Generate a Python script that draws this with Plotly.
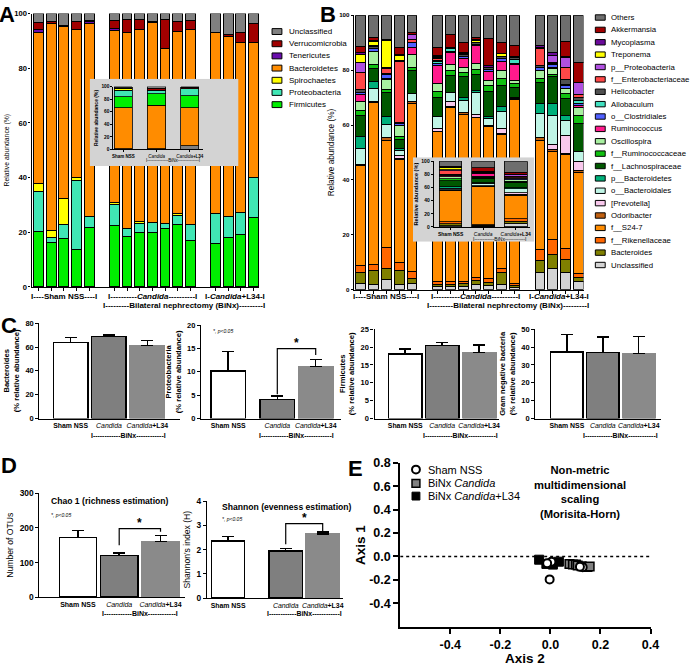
import plotly.graph_objects as go

# ============================ DATA ============================
group_names = ["Sham NSS", "Candida", "Candida+L34"]
group_sizes = [5, 7, 4]          # mice per group (panels A and B)

# ---- Panel A : phylum level relative abundance (%) per mouse ----
phylum_names = ["Firmicutes", "Proteobacteria", "Spirochaetes", "Bacteroidetes",
                "Tenericutes", "Verrucomicrobia", "Unclassified"]
a_firmicutes      = [20.4, 16.2, 17.7, 13.8, 21.8, 22.5, 18.6, 20.0, 19.8, 21.2, 23.0, 17.0, 15.9, 18.0, 19.0, 25.4]
a_proteobacteria  = [14.6, 2.0, 5.1, 25.1, 3.9, 7.7, 2.6, 3.1, 3.6, 1.9, 3.1, 5.8, 11.0, 7.7, 8.1, 14.5]
a_spirochaetes    = [2.7, 2.4, 9.5, 1.2, 0.0, 0.5, 0.0, 0.9, 0.0, 0.0, 0.8, 0.0, 0.0, 0.0, 0.0, 0.0]
a_bacteroidetes   = [55.3, 75.6, 62.9, 54.2, 70.7, 63.0, 71.9, 70.3, 73.5, 64.3, 66.4, 71.2, 66.2, 66.0, 62.2, 49.4]
a_tenericutes     = [1.3, 0.3, 0.0, 0.0, 0.6, 0.8, 0.0, 0.0, 0.0, 0.0, 0.0, 0.0, 0.0, 0.0, 0.0, 0.0]
a_verrucomicrobia = [2.5, 0.7, 0.4, 2.9, 0.3, 3.0, 4.9, 3.7, 0.3, 10.4, 3.9, 3.4, 0.0, 0.5, 3.9, 6.9]
a_unclassified    = [3.2, 2.8, 4.4, 2.8, 2.7, 2.5, 2.0, 2.0, 2.8, 2.2, 2.8, 2.6, 6.9, 7.8, 6.8, 3.8]

# ---- Panel A inset : group means (%) ----
ai_unclassified_low  = [0.8, 0.8, 5.5]
ai_bacteroidetes     = [65.5, 69.7, 60.8]
ai_firmicutes        = [17.1, 18.1, 18.7]
ai_proteobacteria    = [10.4, 5.2, 11.4]
ai_spirochaetes      = [3.6, 0.3, 0.0]
ai_tenericutes       = [0.3, 0.3, 0.0]
ai_verrucomicrobia   = [0.6, 3.0, 2.2]
ai_unclassified_high = [1.7, 2.6, 1.4]

# ---- Panel B : genus level relative abundance (%) per mouse ----
genus_names = ["Unclassified", "Bacteroides", "f__Rikenellaceae", "f__S24-7", "Odoribacter",
               "[Prevotella]", "o__Bacteroidales", "p__Bacteroidetes", "f__Lachnospiraceae",
               "f__Ruminococcaceae", "Oscillospira", "Ruminococcus", "o__Clostridiales",
               "Allobaculum", "Helicobacter", "f__Enterobacteriaceae", "p__Proteobacteria",
               "Treponema", "Mycoplasma", "Akkermansia", "Others"]
b_unclassified       = [2.4, 1.8, 3.6, 1.8, 2.4, 1.3, 1.2, 1.2, 1.8, 1.5, 1.9, 0.8, 6.4, 7.6, 6.4, 3.2]
b_bacteroides        = [3.8, 5.3, 4.1, 5.3, 1.8, 0.7, 0.8, 1.0, 1.6, 1.2, 4.3, 0.9, 4.2, 5.4, 4.8, 1.2]
b_rikenellaceae      = [2.7, 2.1, 7.8, 3.0, 2.3, 1.0, 1.0, 1.0, 1.2, 1.4, 1.4, 0.6, 4.2, 5.3, 4.0, 1.4]
b_s24_7              = [36.3, 58.9, 38.7, 37.5, 61.3, 54.5, 63.4, 60.6, 58.0, 55.4, 49.1, 66.9, 39.4, 32.2, 33.9, 36.9]
b_odoribacter        = [0.3, 0.3, 1.2, 0.3, 0.6, 0.3, 0.2, 0.6, 0.3, 0.5, 0.4, 0.3, 1.1, 0.6, 0.5, 0.7]
b_prevotella         = [0.0, 0.0, 0.0, 1.0, 0.0, 0.8, 2.0, 0.0, 0.9, 0.0, 1.8, 0.0, 0.0, 1.8, 6.6, 3.5]
b_bacteroidales      = [6.0, 4.8, 4.9, 2.0, 3.0, 4.4, 3.2, 4.7, 7.9, 2.4, 6.2, 0.7, 8.9, 10.7, 5.3, 3.6]
b_p_bacteroidetes    = [4.2, 2.7, 2.9, 0.5, 0.0, 0.0, 0.0, 1.1, 1.0, 0.6, 1.5, 0.0, 3.6, 4.2, 2.1, 0.0]
b_lachnospiraceae    = [7.9, 4.8, 8.7, 3.5, 8.3, 7.2, 6.1, 7.4, 5.7, 9.2, 7.8, 3.6, 7.7, 10.0, 6.0, 10.2]
b_ruminococcaceae    = [1.8, 1.4, 1.2, 0.8, 1.2, 2.0, 1.8, 1.6, 1.8, 2.2, 2.6, 1.2, 1.3, 0.7, 1.8, 2.9]
b_oscillospira       = [3.3, 4.8, 3.3, 4.3, 4.8, 2.8, 2.4, 1.7, 2.2, 1.7, 2.7, 1.1, 2.9, 2.0, 2.0, 2.8]
b_ruminococcus       = [2.4, 0.0, 0.6, 0.0, 2.4, 6.5, 4.4, 3.3, 6.6, 3.3, 3.6, 6.0, 0.0, 0.6, 0.0, 0.8]
b_clostridiales      = [0.8, 1.0, 1.5, 0.5, 1.8, 0.8, 0.3, 0.8, 0.4, 0.8, 1.0, 0.4, 1.2, 1.0, 1.0, 0.8]
b_allobaculum        = [0.0, 0.0, 0.0, 0.0, 0.0, 1.0, 1.0, 0.0, 0.0, 0.0, 0.0, 1.2, 0.0, 0.0, 0.5, 0.8]
b_helicobacter       = [0.9, 0.8, 0.3, 0.5, 0.0, 0.3, 0.4, 0.6, 0.8, 0.8, 0.8, 0.8, 0.6, 0.3, 1.6, 1.2]
b_enterobacteriaceae = [6.5, 0.0, 1.8, 22.3, 1.1, 0.8, 0.0, 0.0, 0.0, 0.0, 0.0, 0.0, 6.4, 0.3, 4.5, 1.2]
b_p_proteobacteria   = [3.4, 0.4, 0.3, 0.3, 1.8, 0.3, 0.0, 0.0, 0.0, 0.0, 0.0, 0.0, 0.5, 2.6, 3.5, 4.3]
b_treponema          = [3.0, 1.3, 9.8, 1.6, 0.0, 0.4, 0.0, 0.6, 0.5, 0.0, 0.8, 0.0, 0.0, 0.0, 0.0, 0.0]
b_mycoplasma         = [0.6, 0.3, 0.3, 0.3, 0.3, 0.3, 0.2, 0.3, 0.4, 0.5, 0.3, 0.5, 0.5, 1.2, 0.5, 0.0]
b_akkermansia        = [2.4, 1.0, 0.0, 2.7, 0.6, 3.0, 4.5, 3.5, 0.6, 10.1, 3.7, 3.8, 0.0, 0.0, 5.4, 7.2]
b_others             = [11.3, 8.3, 9.0, 11.8, 6.3, 11.6, 7.1, 10.0, 8.3, 8.4, 10.1, 11.2, 11.1, 13.5, 9.6, 17.3]

# ---- Panel B inset : group means (%) ----
bi_unclassified       = [2.0, 1.5, 5.5]
bi_bacteroides        = [3.0, 1.0, 3.5]
bi_rikenellaceae      = [3.0, 1.0, 3.5]
bi_s24_7              = [47.0, 58.5, 36.0]
bi_odoribacter        = [1.0, 0.3, 1.0]
bi_prevotella         = [0.5, 0.7, 2.5]
bi_bacteroidales      = [2.5, 3.5, 6.0]
bi_p_bacteroidetes    = [2.5, 0.5, 2.0]
bi_lachnospiraceae    = [9.0, 7.0, 8.0]
bi_ruminococcaceae    = [2.5, 1.5, 1.5]
bi_oscillospira       = [3.0, 2.0, 2.0]
bi_ruminococcus       = [2.5, 4.5, 0.5]
bi_clostridiales      = [1.0, 0.5, 1.0]
bi_allobaculum        = [0.5, 0.5, 0.5]
bi_helicobacter       = [0.5, 0.5, 1.0]
bi_enterobacteriaceae = [5.0, 0.5, 2.5]
bi_p_proteobacteria   = [1.5, 0.0, 2.5]
bi_treponema          = [3.0, 0.5, 0.0]
bi_mycoplasma         = [0.5, 0.5, 0.5]
bi_akkermansia        = [1.5, 5.0, 3.0]
bi_others             = [8.0, 10.0, 17.0]

# ---- Panel C : mean and SEM (upper) per group ----
bacteroides_mean    = [64.0, 68.7, 61.3]
bacteroides_sem     = [4.1, 1.6, 4.1]
proteobacteria_mean = [10.2, 4.1, 11.1]
proteobacteria_sem  = [4.2, 0.7, 1.5]
firmicutes_mean     = [18.1, 20.4, 18.4]
firmicutes_sem      = [1.4, 0.9, 2.2]
gramneg_mean        = [37.3, 36.8, 36.4]
gramneg_sem         = [9.6, 8.8, 9.6]

# ---- Panel D ----
chao1_mean   = [172, 121, 161]
chao1_sem    = [21, 7, 17]
shannon_mean = [2.36, 1.95, 2.65]
shannon_sem  = [0.17, 0.10, 0.07]

# ---- Panel E : NMDS (Morisita-Horn) ----
e_sham_axis2    = [0.004, -0.013, -0.003, 0.129, 0.118]
e_sham_axis1    = [-0.045, -0.059, -0.196, -0.092, -0.088]
e_candida_axis2 = [0.076, 0.090, 0.102, 0.109, 0.125, 0.148, 0.157]
e_candida_axis1 = [-0.064, -0.068, -0.070, -0.078, -0.084, -0.090, -0.087]
e_l34_axis2     = [-0.045, -0.016, 0.010, 0.034]
e_l34_axis1     = [-0.028, -0.064, -0.070, -0.045]

# ============================ STYLE ============================
W, H = 696, 671
FONT = "Liberation Sans, Arial, Helvetica, sans-serif"


def fx(p):
    return p / W


def fy(p):
    return 1 - p / H


PHYLUM_COLORS = {"Firmicutes": "#00ee00", "Proteobacteria": "#40e6b4", "Spirochaetes": "#ffff00",
                 "Bacteroidetes": "#ff8c00", "Tenericutes": "#6a0dad", "Verrucomicrobia": "#a00000",
                 "Unclassified": "#808080"}
GENUS_COLORS = {"Others": "#6e6e6e", "Akkermansia": "#a00000", "Mycoplasma": "#6a0a9a",
                "Treponema": "#ffff00", "p__Proteobacteria": "#b050e0",
                "f__Enterobacteriaceae": "#ff4848", "Helicobacter": "#505050",
                "Allobaculum": "#40e0c0", "o__Clostridiales": "#5060ff", "Ruminococcus": "#ff1a8c",
                "Oscillospira": "#a8f0a0", "f__Ruminococcaceae": "#10c010",
                "f__Lachnospiraceae": "#005800", "p__Bacteroidetes": "#00b07a",
                "o__Bacteroidales": "#c0f5e6", "[Prevotella]": "#f8c8ec", "Odoribacter": "#c06010",
                "f__S24-7": "#ff8c00", "f__Rikenellaceae": "#ff6600", "Bacteroides": "#808000",
                "Unclassified": "#d3d3d3"}
GROUP_FILL = ["white", "#7f7f7f", "#8a8a8a"]
GROUP_EDGE = ["black", "black", "#8a8a8a"]

a_series = dict(zip(phylum_names, [a_firmicutes, a_proteobacteria, a_spirochaetes, a_bacteroidetes,
                                   a_tenericutes, a_verrucomicrobia, a_unclassified]))
ai_series = [("Unclassified", ai_unclassified_low), ("Bacteroidetes", ai_bacteroidetes),
             ("Firmicutes", ai_firmicutes), ("Proteobacteria", ai_proteobacteria),
             ("Spirochaetes", ai_spirochaetes), ("Tenericutes", ai_tenericutes),
             ("Verrucomicrobia", ai_verrucomicrobia), ("Unclassified", ai_unclassified_high)]
b_series = dict(zip(genus_names, [b_unclassified, b_bacteroides, b_rikenellaceae, b_s24_7, b_odoribacter,
                                  b_prevotella, b_bacteroidales, b_p_bacteroidetes, b_lachnospiraceae,
                                  b_ruminococcaceae, b_oscillospira, b_ruminococcus, b_clostridiales,
                                  b_allobaculum, b_helicobacter, b_enterobacteriaceae, b_p_proteobacteria,
                                  b_treponema, b_mycoplasma, b_akkermansia, b_others]))
bi_series = dict(zip(genus_names, [bi_unclassified, bi_bacteroides, bi_rikenellaceae, bi_s24_7, bi_odoribacter,
                                   bi_prevotella, bi_bacteroidales, bi_p_bacteroidetes, bi_lachnospiraceae,
                                   bi_ruminococcaceae, bi_oscillospira, bi_ruminococcus, bi_clostridiales,
                                   bi_allobaculum, bi_helicobacter, bi_enterobacteriaceae, bi_p_proteobacteria,
                                   bi_treponema, bi_mycoplasma, bi_akkermansia, bi_others]))

layout = dict(width=W, height=H, margin=dict(l=0, r=0, t=0, b=0), paper_bgcolor="white",
              plot_bgcolor="rgba(0,0,0,0)", barmode="stack", showlegend=False,
              font=dict(family=FONT, color="black"))
shapes, annotations = [], []
fig = go.Figure()


def tfont(size, bold=True, italic=False):
    d = dict(size=size, family=FONT, color="black")
    if bold:
        d["weight"] = "bold"
    if italic:
        d["style"] = "italic"
    return d


def setup_axes(n, xpx, ypx, xrange, yrange, xkw=None, ykw=None):
    s = "" if n == 1 else str(n)
    base = dict(showgrid=False, zeroline=False, showline=True, linecolor="black", linewidth=1.3,
                ticks="outside", ticklen=3, tickwidth=1.2, tickcolor="black", fixedrange=True)
    xa = dict(base, domain=[fx(xpx[0]), fx(xpx[1])], range=xrange, anchor="y" + s, tickangle=0)
    ya = dict(base, domain=[fy(ypx[1]), fy(ypx[0])], range=yrange, anchor="x" + s)
    if xkw:
        xa.update(xkw)
    if ykw:
        ya.update(ykw)
    layout["xaxis" + s] = xa
    layout["yaxis" + s] = ya
    return "x" + s, "y" + s


def hidden_axes(n, xpx, ypx):
    s = str(n)
    off = dict(visible=False, showgrid=False, zeroline=False, fixedrange=True, range=[0, 1])
    layout["xaxis" + s] = dict(off, domain=[fx(xpx[0]), fx(xpx[1])], anchor="y" + s)
    layout["yaxis" + s] = dict(off, domain=[fy(ypx[1]), fy(ypx[0])], anchor="x" + s)
    fig.add_trace(go.Scatter(x=[], y=[], xaxis="x" + s, yaxis="y" + s, hoverinfo="skip"))
    return "x" + s, "y" + s


def positions(sizes, gap=1):
    out, start = [], 0
    for n in sizes:
        out += [start + i for i in range(n)]
        start += n + gap
    return out


def fmt_group(name):
    if name.startswith("Candida"):
        rest = name[len("Candida"):]
        return "<i>Candida</i>" + ("<b>%s</b>" % rest if rest else "")
    return "<b>%s</b>" % name


def label(text, x, y, size, xref="paper", xanchor="center", yanchor="middle", bold=True, italic=False, angle=0):
    annotations.append(dict(text=text, x=x if xref != "paper" else fx(x), y=fy(y), xref=xref, yref="paper",
                            xanchor=xanchor, yanchor=yanchor, showarrow=False, textangle=angle,
                            font=tfont(size, bold, italic)))


sample_x = positions(group_sizes)
group_pos = []
i0 = 0
for n in group_sizes:
    group_pos.append(sample_x[i0:i0 + n])
    i0 += n
group_center = [sum(g) / len(g) for g in group_pos]
binx_center = (group_pos[1][0] + group_pos[2][-1]) / 2

group_line = ["<b>I----Sham NSS----I</b>", "<b>I----------<i>Candida</i>----------I</b>",
              "<b>I-<i>Candida</i>+L34-I</b>"]
binx_line = "<b>I---------Bilateral nephrectomy (BiNx)---------I</b>"

# ============================ PANEL A ============================
xa, ya = setup_axes(1, (31, 262), (6.7, 285), [-0.55, 17.45], [0, 100],
                    xkw=dict(tickvals=sample_x, showticklabels=False),
                    ykw=dict(tickvals=[0, 20, 40, 60, 80, 100], tickfont=tfont(7.6), ticklen=2,
                             title=dict(text="Relative abundance (%)", font=tfont(6.8, bold=False), standoff=3)))
for name in phylum_names:
    fig.add_trace(go.Bar(x=sample_x, y=a_series[name], width=0.78, name=name, xaxis=xa, yaxis=ya,
                         marker=dict(color=PHYLUM_COLORS[name], line=dict(color="black", width=1))))
for c, t in zip(group_center, group_line):
    label(t, c, 295, 8, xref=xa)
label(binx_line, binx_center, 304, 8, xref=xa)

# inset background + inset
bx, by = hidden_axes(2, (90, 241), (73, 162))
shapes.append(dict(type="rect", xref=bx, yref=by, x0=0, x1=1, y0=0, y1=1, layer="below",
                   fillcolor="#d3d3d3", line=dict(width=0)))
inset_x = list(range(len(group_names)))
xa3, ya3 = setup_axes(3, (114, 205), (81, 145), [-0.3, 2.4], [0, 100],
                      xkw=dict(tickvals=inset_x, ticktext=[fmt_group(g) for g in group_names],
                               tickfont=tfont(4.5, bold=False), ticks="outside", ticklen=2, linewidth=1),
                      ykw=dict(tickvals=[0, 20, 40, 60, 80, 100], tickfont=tfont(4.8), ticklen=2, linewidth=1,
                               title=dict(text="Relative abundance (%)", font=tfont(5), standoff=2)))
for name, vals in ai_series:
    fig.add_trace(go.Bar(x=inset_x, y=vals, width=0.55, name=name, xaxis=xa3, yaxis=ya3,
                         marker=dict(color=PHYLUM_COLORS[name], line=dict(color="black", width=0.8))))
label("I--------------BiNx--------------I", (inset_x[1] + inset_x[2]) / 2, 156.5, 4.5, xref=xa3, bold=False)

# ============================ PANEL B ============================
xa4, ya4 = setup_axes(4, (358, 591), (8.3, 288), [-0.54, 17.4], [0, 100],
                      xkw=dict(tickvals=sample_x, showticklabels=False),
                      ykw=dict(tickvals=[0, 20, 40, 60, 80, 100], tickfont=tfont(6.2), ticklen=2,
                               title=dict(text="Relative abundance (%)", font=tfont(8.2, bold=False), standoff=3)))
for name in genus_names:
    fig.add_trace(go.Bar(x=sample_x, y=b_series[name], width=0.77, name=name, xaxis=xa4, yaxis=ya4,
                         marker=dict(color=GENUS_COLORS[name], line=dict(color="black", width=1))))
for c, t in zip(group_center, group_line):
    label(t, c, 295, 8, xref=xa4)
label(binx_line, binx_center, 304, 8, xref=xa4)

bx5, by5 = hidden_axes(5, (418, 541), (153, 239))
shapes.append(dict(type="rect", xref=bx5, yref=by5, x0=0, x1=1, y0=0, y1=1, layer="below",
                   fillcolor="#d3d3d3", line=dict(width=0)))
xa6, ya6 = setup_axes(6, (439, 537), (157, 224), [-0.52, 2.45], [0, 100],
                      xkw=dict(tickvals=inset_x, ticktext=[fmt_group(g) for g in group_names],
                               tickfont=tfont(5, bold=False), ticklen=2, linewidth=1),
                      ykw=dict(tickvals=[0, 20, 40, 60, 80, 100], tickfont=tfont(5), ticklen=2, linewidth=1,
                               title=dict(text="Relative abundance (%)", font=tfont(5.6), standoff=2)))
for name in genus_names:
    fig.add_trace(go.Bar(x=inset_x, y=bi_series[name], width=0.7, name=name, xaxis=xa6, yaxis=ya6,
                         marker=dict(color=GENUS_COLORS[name], line=dict(color="black", width=0.8))))
label("I------------BiNx------------I", (inset_x[1] + inset_x[2]) / 2, 236.5, 5, xref=xa6, bold=False)


# ============================ LEGENDS A / B ============================
def legend_block(names, colors, bx0, bx1, tx, y0, dy, bh, size):
    for k, nm in enumerate(names):
        yc = y0 + k * dy
        shapes.append(dict(type="rect", xref="paper", yref="paper", x0=fx(bx0), x1=fx(bx1),
                           y0=fy(yc + bh / 2), y1=fy(yc - bh / 2), fillcolor=colors[nm],
                           line=dict(color="black", width=1)))
        annotations.append(dict(text=nm, x=fx(tx), y=fy(yc), xref="paper", yref="paper", xanchor="left",
                                yanchor="middle", showarrow=False, font=tfont(size, bold=False)))


legend_block(list(reversed(phylum_names)), PHYLUM_COLORS, 275, 285, 290, 25, 12.4, 6, 8)
legend_block(list(reversed(genus_names)), GENUS_COLORS, 603, 613, 617, 10.7, 12.6, 5.5, 7.8)


# ============================ PANELS C / D ============================
def group_bars(n, xpx, ypx, yrange, dtick, mean, sem, title, title_font, gap, xrange, tick_size, lab_size,
               binx_y, title_bold=True):
    xs = [0, 1 + gap, 2 + gap]
    xa_, ya_ = setup_axes(n, xpx, ypx, xrange, yrange,
                          xkw=dict(tickvals=xs, ticktext=[fmt_group(g) for g in group_names], ticks="",
                                   tickfont=tfont(lab_size, bold=False)),
                          ykw=dict(dtick=dtick, tick0=0, tickfont=tfont(tick_size),
                                   title=dict(text=title, font=tfont(title_font, bold=title_bold), standoff=4)))
    fig.add_trace(go.Bar(x=xs, y=mean, width=0.9, xaxis=xa_, yaxis=ya_,
                         marker=dict(color=GROUP_FILL, line=dict(color=GROUP_EDGE, width=1.5)),
                         error_y=dict(type="data", array=sem, arrayminus=[0] * len(sem), symmetric=False,
                                      color="black", thickness=1.5, width=6)))
    label("I------------BiNx------------I", (xs[1] + xs[2]) / 2, binx_y, lab_size, xref=xa_)
    return xa_, ya_, xs


def bracket(xa_, ya_, xs, left_y, right_y, top_y):
    path = "M %s,%s L %s,%s L %s,%s L %s,%s" % (xs[1], left_y, xs[1], top_y, xs[2], top_y, xs[2], right_y)
    shapes.append(dict(type="path", xref=xa_, yref=ya_, path=path, line=dict(color="black", width=1.2)))
    annotations.append(dict(text="<b>*</b>", x=(xs[1] + xs[2]) / 2, y=top_y, xref=xa_, yref=ya_,
                            xanchor="center", yanchor="bottom", showarrow=False, font=tfont(12), yshift=-3))


group_bars(7, (39, 182), (322, 419), [0, 80], 20, bacteroides_mean, bacteroides_sem,
           "Bacteroides<br>(% relative abundance)", 7.6, 0, [-0.81, 2.86], 7.5, 6.9, 436)
c2 = group_bars(8, (203, 345), (324, 419), [0, 20], 5, proteobacteria_mean, proteobacteria_sem,
                "Proteobacteria<br>(% relative abundance)", 7.6, 0.28, [-0.705, 2.94], 7.5, 6.9, 436)
bracket(*c2, 5.2, 13.6, 15.0)
label("*, p&lt;0.05", 213, 330, 5, xanchor="left", bold=False, italic=True)
group_bars(9, (379, 505), (328, 419), [0, 25], 5, firmicutes_mean, firmicutes_sem,
           "Firmicutes<br>(% relative abundance)", 7.6, 0, [-0.83, 2.53], 7.5, 6.9, 436)
group_bars(10, (542, 670), (328, 419), [0, 50], 10, gramneg_mean, gramneg_sem,
           "Gram negative bacteria<br>(% relative abundance)", 7.6, 0, [-0.88, 2.63], 7.5, 6.9, 436)

d1 = group_bars(11, (39, 187), (495, 601), [0, 300], 100, chao1_mean, chao1_sem,
                "Number of OTUs", 8.6, 0, [-0.93, 2.60], 8.4, 7.0, 617.5, title_bold=False)
bracket(*d1, 150, 189, 198)
label("Chao 1 (richness estimation)", 49, 503, 8.6, xanchor="left")
label("*, p&lt;0.05", 49, 517, 5, xanchor="left", bold=False, italic=True)
d2 = group_bars(12, (209, 347), (503, 602), [0, 4], 1, shannon_mean, shannon_sem,
                "Shannon's index (H)", 8.6, 0.56, [-0.57, 3.11], 8.4, 6.9, 617.5, title_bold=False)
bracket(*d2, 2.22, 2.75, 3.07)
label("Shannon (evenness estimation)", 222, 509, 8.6, xanchor="left")
label("*, p&lt;0.05", 222, 521, 5, xanchor="left", bold=False, italic=True)

# ============================ PANEL E ============================
ex_ticks = [-0.4, -0.2, 0.0, 0.2, 0.4]
ey_ticks = [-0.4, -0.2, 0.0, 0.2, 0.4, 0.6, 0.8]
xa13, ya13 = setup_axes(13, (405, 659), (464, 631), [-0.6, 0.4], [-0.6, 0.8],
                        xkw=dict(tickvals=ex_ticks, ticktext=["%.1f" % v for v in ex_ticks], tickfont=tfont(12.5),
                                 ticklen=5, linewidth=2, tickwidth=1.5),
                        ykw=dict(tickvals=ey_ticks, ticktext=["%.1f" % v for v in ey_ticks], tickfont=tfont(12.5),
                                 ticklen=5, linewidth=2, tickwidth=1.5))
label("Axis 2", 532, 663, 13.5)
label("Axis 1", 364, 548, 13.5, angle=-90)
shapes.append(dict(type="line", xref=xa13, yref=ya13, x0=-0.6, x1=0.4, y0=0, y1=0,
                   line=dict(color="black", width=1.5, dash="dot")))
fig.add_trace(go.Scatter(x=e_l34_axis2, y=e_l34_axis1, mode="markers", xaxis=xa13, yaxis=ya13,
                         marker=dict(symbol="square", size=9, color="black", line=dict(color="black", width=1))))
fig.add_trace(go.Scatter(x=e_candida_axis2, y=e_candida_axis1, mode="markers", xaxis=xa13, yaxis=ya13,
                         marker=dict(symbol="square", size=8.5, color="#808080", line=dict(color="black", width=1.5))))
fig.add_trace(go.Scatter(x=e_sham_axis2, y=e_sham_axis1, mode="markers", xaxis=xa13, yaxis=ya13,
                         marker=dict(symbol="circle", size=8, color="white", line=dict(color="black", width=2))))

# E legend
shapes.append(dict(type="circle", xref="paper", yref="paper", x0=fx(417), x1=fx(425), y0=fy(475), y1=fy(467),
                   fillcolor="white", line=dict(color="black", width=2)))
shapes.append(dict(type="rect", xref="paper", yref="paper", x0=fx(417), x1=fx(425), y0=fy(489), y1=fy(481),
                   fillcolor="#808080", line=dict(color="black", width=1.5)))
shapes.append(dict(type="rect", xref="paper", yref="paper", x0=fx(417), x1=fx(425), y0=fy(502), y1=fy(494),
                   fillcolor="black", line=dict(color="black", width=1)))
label("Sham NSS", 431, 471, 11, xanchor="left", bold=False)
label("BiNx <i>Candida</i>", 431, 485, 11, xanchor="left", bold=False)
label("BiNx <i>Candida</i>+L34", 431, 498, 11, xanchor="left", bold=False)
label("Non-metric<br>multidimensional<br>scaling<br>(Morisita-Horn)", 587, 463, 11.2, yanchor="top")

# ============================ PANEL LETTERS ============================
for letter, x, y in [("A", -4, -7), ("B", 322, -7), ("C", -2, 310), ("D", -2, 452), ("E", 350, 455)]:
    label(letter, x, y, 22, xanchor="left", yanchor="top")

layout["shapes"] = shapes
layout["annotations"] = annotations
fig.update_layout(**layout)
fig.write_html("out.html", config={"displayModeBar": False},
               post_script="document.body.style.margin='0';document.body.style.overflow='hidden';")
